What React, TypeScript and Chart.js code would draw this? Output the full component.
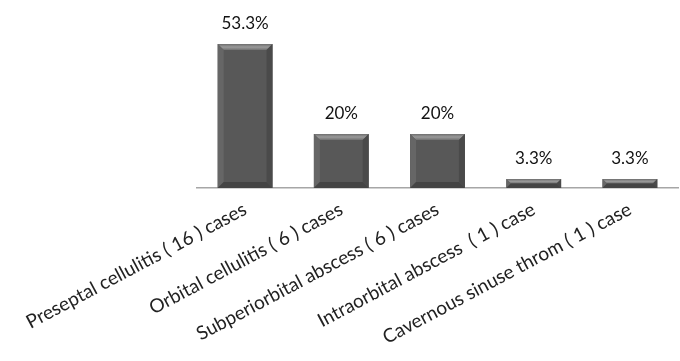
import React, { useEffect, useRef } from "react";
import { Chart, registerables } from "chart.js";

Chart.register(...registerables);

const categories = [
  "Preseptal cellulitis ( 16 ) cases",
  "Orbital cellulitis ( 6 ) cases",
  "Subperiorbital abscess ( 6 ) cases",
  "Intraorbital abscess  ( 1 ) case",
  "Cavernous sinuse throm ( 1 ) case",
];
const values = [53.3, 20, 20, 3.3, 3.3];
const valueLabels = ["53.3%", "20%", "20%", "3.3%", "3.3%"];

const FONT = "Lato, 'Open Sans', sans-serif";

const bevelPlugin = {
  id: "bevel",
  afterDatasetsDraw(chart: any) {
    const ctx = chart.ctx;
    const meta = chart.getDatasetMeta(0);
    meta.data.forEach((bar: any, i: number) => {
      const w = bar.width;
      const left = bar.x - w / 2;
      const right = bar.x + w / 2;
      const top = bar.y;
      const bottom = bar.base;
      const h = bottom - top;
      const b = Math.min(6, h / 2);
      ctx.save();
      ctx.beginPath();
      ctx.moveTo(left, top);
      ctx.lineTo(right, top);
      ctx.lineTo(right - b, top + b);
      ctx.lineTo(left + b, top + b);
      ctx.closePath();
      const gt = ctx.createLinearGradient(0, top, 0, top + b);
      gt.addColorStop(0, "#6e6e6e");
      gt.addColorStop(0.5, "#9a9a9a");
      gt.addColorStop(1, "#707070");
      ctx.fillStyle = gt;
      ctx.fill();
      ctx.beginPath();
      ctx.moveTo(left, top);
      ctx.lineTo(left + b, top + b);
      ctx.lineTo(left + b, bottom - b);
      ctx.lineTo(left, bottom);
      ctx.closePath();
      ctx.fillStyle = "#666666";
      ctx.fill();
      ctx.beginPath();
      ctx.moveTo(right, top);
      ctx.lineTo(right - b, top + b);
      ctx.lineTo(right - b, bottom - b);
      ctx.lineTo(right, bottom);
      ctx.closePath();
      ctx.fillStyle = "#4a4a4a";
      ctx.fill();
      ctx.beginPath();
      ctx.moveTo(left, bottom);
      ctx.lineTo(left + b, bottom - b);
      ctx.lineTo(right - b, bottom - b);
      ctx.lineTo(right, bottom);
      ctx.closePath();
      ctx.fillStyle = "#444444";
      ctx.fill();
      ctx.fillStyle = "#111111";
      ctx.font = `17px ${FONT}`;
      ctx.textAlign = "center";
      ctx.textBaseline = "alphabetic";
      ctx.fillText(valueLabels[i], bar.x, top - 15);
      ctx.restore();
    });
  },
};

export default function App() {
  const ref = useRef<HTMLCanvasElement | null>(null);
  useEffect(() => {
    if (!ref.current) return;
    const chart = new Chart(ref.current, {
      type: "bar",
      data: {
        labels: categories,
        datasets: [
          {
            data: values,
            backgroundColor: "#585858",
            borderWidth: 0,
            barPercentage: 0.57,
            categoryPercentage: 1,
          },
        ],
      },
      options: {
        animation: false,
        responsive: true,
        maintainAspectRatio: false,
        layout: { padding: { left: 197, right: 2, top: 26, bottom: 0 } },
        plugins: {
          legend: { display: false },
          tooltip: { enabled: false },
        },
        scales: {
          x: {
            grid: { display: false, drawTicks: false },
            border: { display: true, color: "#a6a6a6", width: 1.5 },
            ticks: {
              minRotation: 28,
              maxRotation: 28,
              autoSkip: false,
              padding: 10,
              color: "#222222",
              font: { family: FONT, size: 19 },
            },
            afterFit: (s: any) => {
              s.paddingLeft = 0;
              s.paddingRight = 0;
              s.height = 173;
            },
          },
          y: {
            display: false,
            min: 0,
            max: 60,
          },
        },
      },
      plugins: [bevelPlugin],
    });
    return () => chart.destroy();
  }, []);
  return (
    <div style={{ position: "fixed", left: 0, top: 0, width: 680, height: 361, background: "#fff" }}>
      <canvas ref={ref} />
    </div>
  );
}
